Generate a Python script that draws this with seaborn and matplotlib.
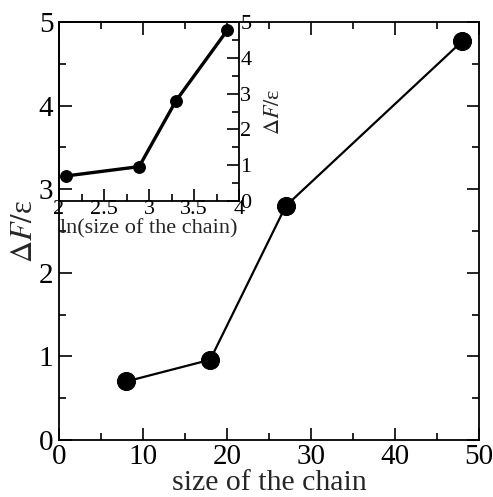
import matplotlib
matplotlib.use("Agg")
import matplotlib.pyplot as plt
from matplotlib.ticker import MultipleLocator
import seaborn as sns
import pandas as pd

chain_size = [8, 18, 27, 48]
delta_f = [0.70, 0.96, 2.80, 4.77]
ln_chain_size = [2.08, 2.89, 3.30, 3.87]
delta_f_inset = [0.70, 0.96, 2.80, 4.77]

sns.set_style("ticks")
plt.rcParams['font.family'] = ['Liberation Serif', 'DejaVu Serif']
plt.rcParams['mathtext.fontset'] = 'stix'

ylab = r"$\Delta F/$ε"

fig = plt.figure(figsize=(4.93, 4.97), dpi=100)
ax = fig.add_axes([0.1197, 0.1147, 0.8519, 0.8410])

df = pd.DataFrame({"x": chain_size, "y": delta_f})
sns.lineplot(data=df, x="x", y="y", ax=ax, color="black", linewidth=1.6,
             marker="o", markersize=13, markeredgecolor="black")
ax.set_xlim(0, 50)
ax.set_ylim(0, 5)
ax.xaxis.set_major_locator(MultipleLocator(10))
ax.xaxis.set_minor_locator(MultipleLocator(5))
ax.yaxis.set_major_locator(MultipleLocator(1))
ax.yaxis.set_minor_locator(MultipleLocator(0.5))
ax.tick_params(which='both', direction='in', top=True, right=True, width=1.2, colors='black')
ax.tick_params(which='major', length=9, labelsize=21, pad=4)
ax.tick_params(axis='x', which='major', pad=3)
ax.tick_params(which='minor', length=5)
ax.set_xlabel("size of the chain", fontsize=21.5, labelpad=0)
ax.set_ylabel(ylab, fontsize=22, labelpad=0)
for s in ax.spines.values():
    s.set_linewidth(1.3)
    s.set_color('black')

ins = fig.add_axes([0.1197, 0.5956, 0.3651, 0.3601])
ins.patch.set_alpha(0)
dfi = pd.DataFrame({"x": ln_chain_size, "y": delta_f_inset})
sns.lineplot(data=dfi, x="x", y="y", ax=ins, color="black", linewidth=2.4,
             marker="o", markersize=8.5, markeredgecolor="black")
ins.set_xlim(2, 4)
ins.set_ylim(0, 5)
ins.xaxis.set_major_locator(MultipleLocator(0.5))
ins.xaxis.set_minor_locator(MultipleLocator(0.25))
ins.yaxis.set_major_locator(MultipleLocator(1))
ins.yaxis.set_minor_locator(MultipleLocator(0.5))
ins.yaxis.tick_right()
ins.yaxis.set_label_position("right")
ins.tick_params(which='both', direction='in', left=False, top=False, right=True, bottom=True,
                width=1.2, colors='black')
ins.tick_params(which='major', length=9, labelsize=16, pad=1)
ins.tick_params(axis='x', which='major', pad=-1)
ins.tick_params(which='minor', length=5)
ins.set_xticks([2, 2.5, 3, 3.5, 4])
ins.set_xticklabels(["2", "2.5", "3", "3.5", "4"])
ins.set_xlabel("ln(size of the chain)", fontsize=16, labelpad=0)
ins.set_ylabel(ylab, fontsize=16, labelpad=10)
for s in ins.spines.values():
    s.set_linewidth(1.3)
    s.set_color('black')

fig.savefig("out.png", dpi=100)
